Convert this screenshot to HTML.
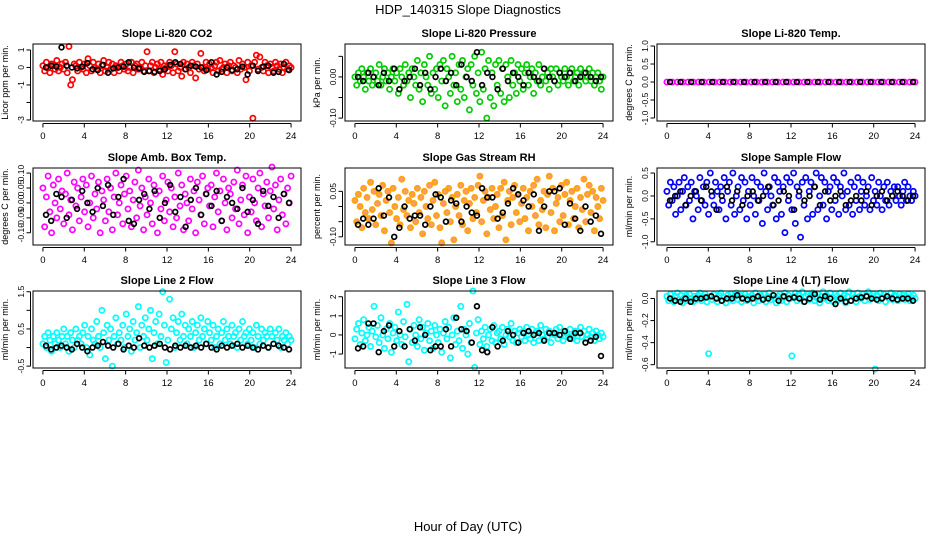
<!DOCTYPE html>
<html><head><meta charset="utf-8">
<style>
html,body{margin:0;padding:0;background:#fff;}
svg{display:block;font-family:"Liberation Sans",sans-serif;}
</style></head>
<body>
<svg id="chart" width="936" height="540" viewBox="0 0 936 540" xmlns="http://www.w3.org/2000/svg">
<rect x="0" y="0" width="936" height="540" fill="#fff"/>
<text x="468" y="14" text-anchor="middle" font-size="13">HDP_140315  Slope Diagnostics</text>
<text x="468" y="531" text-anchor="middle" font-size="13">Hour of Day (UTC)</text>
</svg>
<script>
const xTicks = [0,4,8,12,16,20,24];
const panelTitles = ["Slope Li-820 CO2","Slope Li-820 Pressure","Slope Li-820 Temp.","Slope Amb. Box Temp.","Slope Gas Stream RH","Slope Sample Flow","Slope Line 2 Flow","Slope Line 3 Flow","Slope Line 4 (LT) Flow"];
const yTitles = ["Licor ppm per min.","kPa per min.","degrees C per min.","degrees C per min.","percent per min.","ml/min per min.","ml/min per min.","ml/min per min.","ml/min per min."];
const yDomains = [[-3.06,1.34],[-0.107,0.080],[-1.083,1.056],[-0.141,0.117],[-0.127,0.127],[-1.07,0.61],[-0.55,1.52],[-1.73,2.3],[-0.63,0.068]];
const yTicks = [[-3,-2,-1,0,1],[-0.10,-0.05,0,0.05],[-1,-0.5,0,0.5,1],[-0.10,-0.05,0,0.05,0.10],[-0.10,-0.05,0,0.05],[-1,-0.5,0,0.5],[-0.5,0,0.5,1,1.5],[-1,0,1,2],[-0.6,-0.4,-0.2,0]];
const yTickLabels = [["-3","","-1","0","1"],["-0.10","","0.00",""],["-1.0","-0.5","0.0","0.5","1.0"],["-0.10","-0.05","0.00","0.05","0.10"],["-0.10","","","0.05"],["-1.0","-0.5","0.0","0.5"],["-0.5","","0.5","","1.5"],["-1","0","1","2"],["-0.6","-0.4","-0.2","0.0"]];
const colors = ["#ff0000","#00cc00","#ff00ff","#ff00ff","#ffa500","#0000ff","#00ffff","#00ffff","#00ffff"];

const co2Vals = [0.1,-0.2,0.3,0.0,-0.3,0.2,0.1,-0.1,0.4,-0.2,0.0,0.2,-0.1,0.3,-0.3,1.2,-1.0,-0.7,0.2,0.1,-0.2,0.3,0.0,-0.1,0.2,-0.3,0.5,0.1,-0.2,0.3,0.0,-0.1,0.2,-0.3,0.1,0.4,-0.2,0.0,0.3,-0.1,0.2,-0.3,0.1,0.0,-0.2,0.3,0.1,-0.1,0.2,-0.2,0.0,0.3,-0.3,0.1,0.2,-0.1,0.0,0.3,-0.2,0.1,0.9,-0.2,0.1,0.3,-0.3,0.0,0.2,-0.1,0.3,-0.4,0.1,0.0,-0.2,0.3,0.1,-0.3,0.9,0.2,-0.2,0.0,-0.5,0.3,-0.1,0.2,0.0,-0.3,0.3,0.1,-0.6,0.2,-0.1,0.8,0.0,-0.2,0.3,-0.1,0.2,0.0,-0.3,0.1,0.3,-0.2,0.4,-0.1,0.0,0.2,-0.3,0.1,0.3,-0.2,0.1,0.0,-0.3,0.4,-0.1,0.2,0.0,-0.7,0.3,-0.2,0.1,-2.9,0.3,0.7,-0.1,0.6,0.0,-0.2,0.3,0.1,-0.3,0.2,0.0,-0.2,0.3,0.1,-0.1,0.2,-0.3,0.0,0.3,-0.1,0.1,0.0];
const co2Black = [0.0,0.1,0.05,1.15,0.1,0.0,-0.05,0.05,0.25,-0.1,-0.15,0.15,-0.3,-0.05,0.0,0.05,0.3,0.0,-0.05,-0.25,-0.2,-0.25,-0.2,-0.1,0.15,0.3,0.2,-0.1,0.1,0.05,0.0,-0.15,0.3,-0.4,-0.25,0.0,-0.15,-0.1,0.05,-0.4,0.1,-0.2,0.05,0.1,-0.3,-0.25,0.2,-0.15];
const presVals = [0.00,-0.02,0.01,-0.01,0.02,0.00,-0.03,0.01,-0.01,0.02,-0.02,0.00,0.01,-0.01,0.03,-0.02,0.00,0.02,-0.01,0.01,-0.03,0.00,0.02,-0.01,0.01,-0.04,0.02,0.00,-0.02,0.03,-0.01,0.01,-0.05,0.02,0.00,-0.02,0.04,-0.03,0.01,-0.06,0.03,0.00,-0.02,0.05,-0.04,0.01,-0.03,0.02,-0.05,0.03,-0.01,0.04,-0.07,0.02,0.00,-0.04,0.05,-0.02,0.01,-0.06,0.03,-0.03,0.04,-0.05,0.00,0.02,-0.08,0.03,-0.02,0.05,-0.04,0.01,-0.06,0.06,-0.03,0.02,-0.10,0.04,-0.05,0.01,-0.07,0.03,-0.02,0.04,-0.04,0.02,-0.06,0.03,0.00,-0.05,0.04,-0.02,0.01,-0.04,0.03,-0.01,0.02,-0.03,0.01,0.03,-0.02,0.00,0.02,-0.04,0.01,-0.01,0.03,-0.02,0.00,0.02,-0.01,0.01,-0.03,0.02,0.00,-0.01,0.02,-0.02,0.01,0.00,-0.01,0.02,0.00,-0.02,0.01,0.02,-0.01,0.00,0.01,-0.02,0.02,0.00,0.01,-0.01,0.00,0.02,-0.01,0.01,-0.02,0.00,0.01,-0.01,-0.03,0.00];
const presBlack = [0.00,-0.01,0.01,0.00,-0.02,0.01,-0.01,0.02,-0.03,-0.01,0.00,0.02,-0.02,0.01,-0.03,0.00,0.02,-0.01,0.01,-0.02,0.03,0.00,-0.01,0.06,-0.02,0.01,0.00,-0.03,0.02,-0.01,0.01,0.00,-0.02,0.01,0.00,-0.01,0.02,0.00,-0.01,0.01,0.00,0.01,-0.01,0.00,0.01,0.00,-0.01,0.00];
const tempVals = [0,0,0,0,0,0,0,0,0,0,0,0,0,0,0,0,0,0,0,0,0,0,0,0,0,0,0,0,0,0,0,0,0,0,0,0,0,0,0,0,0,0,0,0,0,0,0,0];
const tempBlack = [0,0,0,0,0,0,0,0,0,0,0,0,0,0,0,0,0,0,0,0,0,0,0,0];
const ambVals = [0.05,-0.08,0.02,0.09,-0.03,-0.10,0.06,0.00,-0.05,0.08,-0.02,0.04,-0.07,0.03,0.10,-0.04,0.01,-0.09,0.07,-0.01,0.05,-0.06,0.02,0.08,-0.03,0.06,-0.08,0.00,0.09,-0.05,0.03,-0.02,0.07,-0.10,0.04,0.01,-0.06,0.08,-0.03,0.05,-0.09,0.02,0.10,-0.04,0.00,0.06,-0.07,0.03,0.09,-0.02,0.04,-0.08,0.01,0.07,-0.05,0.11,-0.01,0.05,-0.09,0.02,-0.04,0.08,0.00,-0.07,0.06,0.03,-0.10,0.04,-0.02,0.09,-0.06,0.01,0.07,-0.03,0.05,-0.08,0.02,-0.05,0.10,-0.01,0.06,-0.09,0.03,0.00,-0.06,0.08,-0.02,0.04,-0.10,0.07,0.01,-0.04,0.09,-0.07,0.03,0.05,-0.01,0.06,-0.08,0.02,0.10,-0.03,0.04,-0.06,0.08,0.00,-0.09,0.05,0.03,-0.05,0.07,-0.02,0.11,-0.07,0.01,0.06,-0.04,0.09,-0.10,0.02,-0.03,0.08,0.00,-0.06,0.05,0.10,-0.08,0.03,-0.01,0.07,-0.05,0.04,0.12,-0.02,0.06,-0.09,0.01,0.08,-0.04,0.03,-0.07,0.05,0.00,0.09];
const ambBlack = [-0.04,-0.06,0.03,0.02,-0.05,0.01,-0.02,0.04,0.00,-0.03,0.05,-0.01,0.06,-0.04,0.02,0.08,-0.06,-0.07,0.01,0.03,-0.02,0.04,-0.05,0.00,0.06,-0.03,0.02,-0.08,0.01,0.05,-0.04,0.03,-0.01,0.04,-0.06,0.02,0.00,-0.02,0.05,-0.03,0.01,-0.07,0.04,-0.01,0.02,-0.05,0.03,0.00];
const rhVals = [0.02,-0.05,0.04,0.00,-0.07,0.06,-0.02,0.03,-0.04,0.08,-0.01,0.05,-0.06,0.01,0.04,-0.03,0.07,-0.08,0.02,0.05,-0.02,-0.12,0.06,0.00,-0.04,0.03,-0.06,0.09,-0.01,0.05,-0.03,0.02,-0.07,0.04,0.01,-0.05,0.06,-0.02,0.03,-0.09,0.05,0.00,-0.04,0.07,-0.06,0.02,0.08,-0.03,0.04,-0.07,-0.12,0.01,0.05,-0.02,0.06,-0.05,0.03,-0.11,0.00,0.04,-0.03,0.07,-0.06,0.02,0.05,-0.08,0.01,0.06,-0.04,0.03,-0.02,0.07,0.10,-0.05,0.02,0.05,-0.09,0.03,-0.01,0.06,-0.04,0.00,0.04,-0.07,0.06,-0.03,0.08,-0.11,0.02,0.05,-0.06,0.03,0.07,-0.02,0.04,-0.05,0.01,0.06,-0.04,0.03,-0.08,0.05,0.00,0.07,-0.03,0.09,-0.06,0.02,-0.01,0.05,-0.07,0.04,0.10,-0.02,0.06,-0.08,0.01,0.03,-0.05,0.07,-0.03,0.04,0.08,-0.06,0.02,0.05,-0.04,0.00,0.06,-0.07,0.03,-0.01,0.09,-0.05,0.04,0.07,-0.02,0.05,-0.08,0.03,0.00,-0.04,0.06,0.02];
const rhBlack = [-0.06,-0.04,-0.06,-0.04,0.06,-0.03,0.03,-0.10,-0.07,0.00,-0.04,-0.03,-0.03,-0.06,0.00,0.04,0.03,-0.05,0.02,0.01,-0.05,0.00,-0.02,-0.03,0.06,0.03,0.03,-0.04,-0.02,0.01,0.06,0.04,0.02,0.00,0.04,-0.08,0.00,0.05,0.05,0.06,-0.06,0.01,-0.04,-0.08,0.00,-0.05,-0.03,-0.09];
const flowVals = [0.1,-0.2,0.3,-0.1,0.2,-0.4,0.0,0.3,-0.3,0.1,0.4,-0.2,0.2,-0.1,0.3,-0.5,0.1,0.0,-0.3,0.4,-0.1,0.2,-0.2,0.3,-0.4,0.5,0.0,-0.2,0.3,0.1,-0.3,0.2,-0.1,0.4,-0.5,0.1,0.3,-0.2,0.5,-0.4,0.0,0.2,-0.3,0.4,-0.1,0.3,-0.5,0.1,-0.2,0.4,0.0,-0.4,0.3,-0.1,0.2,-0.6,0.5,0.1,-0.3,0.2,0.0,-0.2,0.4,-0.5,0.3,0.1,-0.4,0.2,-0.8,0.4,-0.1,0.3,-0.3,0.5,-0.6,0.2,0.0,-0.9,0.3,-0.2,0.4,-0.5,0.1,0.3,-0.4,0.2,0.5,-0.3,0.0,0.4,-0.2,0.3,-0.5,0.1,0.2,-0.3,0.4,-0.1,0.3,-0.4,0.2,0.0,0.5,-0.3,0.1,-0.2,0.3,-0.4,0.2,-0.1,0.4,-0.3,0.1,0.3,-0.2,0.0,0.2,-0.3,0.4,-0.1,0.1,-0.2,0.3,0.0,-0.3,0.2,-0.1,0.3,-0.2,0.1,0.0,0.2,-0.1,0.2,0.0,-0.2,0.1,0.3,-0.1,0.2,0.0,-0.1,0.1,0.0];
const flowBlack = [-0.1,0.0,0.1,-0.2,0.0,0.1,-0.1,0.2,0.1,-0.3,0.0,0.2,-0.1,0.1,-0.2,0.0,0.1,-0.1,0.0,0.2,-0.2,-0.1,0.1,0.0,-0.3,0.1,-0.1,0.0,0.2,-0.2,0.1,-0.1,0.0,0.1,-0.2,-0.1,0.0,-0.1,0.1,-0.2,0.0,0.1,-0.1,0.0,0.1,0.0,-0.1,0.0];
const line2Vals = [0.1,0.3,0.0,0.4,0.2,-0.1,0.3,0.1,0.4,0.2,0.0,0.3,0.5,0.1,0.3,-0.1,0.4,0.2,0.0,0.5,0.2,0.3,0.1,0.4,0.6,0.0,0.3,-0.2,0.5,0.2,0.1,0.7,0.3,0.0,1.0,0.4,-0.3,0.6,0.2,0.5,-0.5,0.3,0.8,0.1,0.4,0.2,0.6,0.0,0.9,0.3,0.5,-0.1,0.7,0.2,0.4,1.1,0.0,0.6,0.3,0.8,0.2,0.5,1.0,-0.3,0.4,0.7,0.1,0.9,0.3,1.5,0.6,-0.4,0.2,1.3,0.5,0.8,0.0,0.4,0.7,0.2,0.9,0.3,0.6,0.1,0.5,0.3,0.7,0.0,0.4,0.6,0.2,0.8,0.3,0.5,0.1,0.7,0.4,0.2,0.6,0.0,0.3,0.5,0.1,0.4,0.7,0.2,0.5,0.3,0.1,0.6,0.3,0.4,0.0,0.5,0.2,0.7,0.3,0.4,0.1,0.5,0.2,0.4,0.0,0.6,0.3,0.1,0.5,0.2,0.4,0.3,0.0,0.5,0.3,0.1,0.4,0.2,0.5,0.0,0.3,0.2,0.4,0.1,0.3,0.2];
const line2Black = [0.05,-0.05,0.0,0.05,0.0,-0.05,0.1,0.0,-0.1,0.0,0.05,0.15,0.05,0.0,0.1,-0.05,0.05,0.0,0.25,0.05,0.0,0.05,0.1,0.0,-0.05,0.05,0.0,0.05,0.0,0.05,0.0,0.1,0.0,-0.05,0.05,0.0,0.05,0.1,0.0,0.05,0.0,-0.05,0.05,0.0,0.1,0.05,0.0,-0.05];
const line3Vals = [-0.2,0.3,0.6,-0.5,0.1,0.8,-0.3,0.0,0.4,-0.6,0.2,1.5,-0.1,0.5,-0.4,0.9,0.0,-0.7,0.3,-0.2,0.6,-0.9,0.1,0.4,-0.3,1.2,0.0,-0.5,0.7,-0.1,1.6,-1.4,0.3,-0.4,0.5,0.0,-0.6,0.8,-0.2,0.4,-0.8,0.1,0.6,-0.3,0.2,-0.7,0.5,0.0,-0.4,0.3,-0.9,0.1,0.7,-0.2,0.4,-1.2,0.0,0.9,-0.5,0.2,-0.3,1.5,-0.7,0.3,0.0,-1.0,0.6,-0.4,2.3,-1.7,0.1,0.8,-0.5,0.2,-0.2,0.4,-0.6,0.0,0.3,-0.3,0.5,-0.4,0.1,0.2,-0.2,0.4,-0.5,0.0,0.3,-0.1,0.6,-0.3,0.2,-0.4,0.1,0.3,-0.1,0.2,-0.3,0.4,0.0,-0.2,0.3,-0.4,0.1,0.2,-0.3,0.5,0.0,-0.2,0.3,-0.1,0.2,-0.4,0.1,0.0,0.3,-0.2,0.4,0.0,-0.3,0.2,0.1,-0.1,0.3,-0.2,0.0,0.2,-0.3,0.1,0.4,-0.1,0.2,-0.2,0.0,0.3,-0.1,0.1,-0.3,0.2,0.0,-0.2,0.1,-0.1];
const line3Black = [-0.7,-0.6,0.6,0.6,-0.9,0.2,0.5,-0.6,0.2,-0.6,0.3,-0.3,0.4,0.0,-0.8,-0.6,-0.6,0.3,-0.6,0.9,0.3,0.2,-0.4,1.5,-0.8,-0.9,0.4,-0.6,-0.3,0.2,0.0,-0.4,0.1,0.2,0.0,0.1,-0.3,0.1,0.1,0.0,0.2,-0.2,0.1,0.1,-0.4,-0.3,-0.1,-1.1];
const line4Vals = [0.02,-0.02,0.04,0.00,-0.03,0.02,0.05,-0.01,0.03,-0.04,0.01,0.03,-0.02,0.04,0.00,-0.03,0.02,-0.01,0.03,0.05,-0.02,0.01,0.04,-0.03,-0.50,0.02,-0.01,0.04,0.00,-0.03,0.03,0.05,-0.02,0.01,-0.04,0.03,0.00,0.04,-0.02,0.02,0.05,-0.01,0.03,-0.03,0.01,0.04,-0.02,0.02,0.00,0.03,-0.04,0.05,0.01,-0.02,0.03,0.00,0.04,-0.03,0.02,0.05,-0.01,0.03,0.00,-0.04,0.02,0.04,-0.02,0.01,0.05,-0.03,0.03,0.00,-0.52,0.02,0.05,-0.02,0.04,0.00,0.06,-0.03,0.02,0.04,-0.01,0.03,0.05,-0.02,0.01,0.04,-0.04,0.02,0.06,0.00,0.03,-0.02,0.05,0.01,-0.03,0.04,0.02,-0.01,0.05,0.00,0.03,-0.04,0.02,0.06,-0.02,0.04,0.01,-0.03,0.05,0.02,0.00,0.04,-0.02,0.03,0.06,-0.01,0.02,0.04,-0.64,0.03,-0.02,0.05,0.01,0.04,-0.03,0.02,0.00,0.05,-0.01,0.03,0.02,-0.02,0.04,0.00,0.03,-0.01,0.02,0.04,-0.02,0.01,0.03,0.00];
const line4Black = [0.0,-0.02,-0.03,0.0,-0.03,0.0,0.0,0.01,0.02,0.0,-0.02,0.0,0.0,0.03,0.0,-0.01,0.0,0.02,-0.01,0.0,0.03,-0.02,0.02,0.0,0.01,0.0,-0.03,0.0,0.04,-0.01,0.02,0.0,-0.05,0.0,-0.03,-0.02,0.0,0.01,0.02,0.0,-0.01,0.0,0.02,0.0,-0.01,0.0,0.0,-0.02];

const colorSeries = [co2Vals,presVals,tempVals,ambVals,rhVals,flowVals,line2Vals,line3Vals,line4Vals];
const blackSeries = [co2Black,presBlack,tempBlack,ambBlack,rhBlack,flowBlack,line2Black,line3Black,line4Black];

const NS = "http://www.w3.org/2000/svg";
const svg = document.getElementById("chart");
function mk(tag, attrs, parent){
  const e = document.createElementNS(NS, tag);
  for (const k in attrs) e.setAttribute(k, attrs[k]);
  (parent||svg).appendChild(e);
  return e;
}
const boxLefts = [33,345,657], boxTops = [44,168,291], BW = 268, BH = 77;

for (let p = 0; p < 9; p++) {
  const L = boxLefts[p%3], T = boxTops[Math.floor(p/3)];
  const [d0, d1] = yDomains[p];
  const xs = h => L + (h + 0.96) / 25.92 * BW;
  const ys = v => T + BH - (v - d0) / (d1 - d0) * BH;
  const g = mk("g", {});
  
  

  const title = mk("text", {x: L + BW/2, y: T - 7, "text-anchor": "middle", "font-size": "11", "font-weight": "bold"}, g);
  title.textContent = panelTitles[p];
  
  

  const yt = mk("text", {transform: "translate(" + (L-25) + "," + (T+BH/2) + ") rotate(-90)", "text-anchor": "middle", "font-size": "9"}, g);
  yt.textContent = yTitles[p];
  
  

  const cv = colorSeries[p];
  cv.forEach((v, i) => {
    const h = i / (cv.length - 1) * 24;
    const c = mk("circle", {cx: xs(h), cy: ys(v), r: 2.6, fill: p === 4 ? "#ff3000" : "none", "fill-opacity": p === 4 ? 0.5 : 1, stroke: colors[p], "stroke-width": 1.7}, g);
    
    
  });
  const bv = blackSeries[p];
  bv.forEach((v, i) => {
    const h = 0.3 + i / (bv.length - 1) * 23.5;
    const c = mk("circle", {cx: xs(h), cy: ys(v), r: 2.4, fill: "none", stroke: "#000", "stroke-width": 1.7}, g);
    
    
  });

  const box = mk("rect", {x: L, y: T, width: BW, height: BH, fill: "none", stroke: "#000", "stroke-width": 1}, g);
  
  

  const xa = mk("line", {x1: xs(0), x2: xs(24), y1: T+BH+2.5, y2: T+BH+2.5, stroke: "#000"}, g);
  
  
  xTicks.forEach(t => {
    mk("line", {x1: xs(t), x2: xs(t), y1: T+BH+2.5, y2: T+BH+6.5, stroke: "#000"}, g);
    const tl = mk("text", {x: xs(t), y: T+BH+18, "text-anchor": "middle", "font-size": "9.5"}, g);
    tl.textContent = t;
    
    
  });

  const tk = yTicks[p];
  const ya = mk("line", {x1: L-2.5, x2: L-2.5, y1: ys(tk[0]), y2: ys(tk[tk.length-1]), stroke: "#000"}, g);
  
  
  tk.forEach((t, i) => {
    mk("line", {x1: L-6.5, x2: L-2.5, y1: ys(t), y2: ys(t), stroke: "#000"}, g);
    const lab = yTickLabels[p][i];
    if (lab) {
      const tl = mk("text", {transform: "translate(" + (L-9) + "," + ys(t) + ") rotate(-90)", "text-anchor": "middle", "font-size": "8.5"}, g);
      tl.textContent = lab;
      
      
    }
  });
}
</script>
</body></html>
